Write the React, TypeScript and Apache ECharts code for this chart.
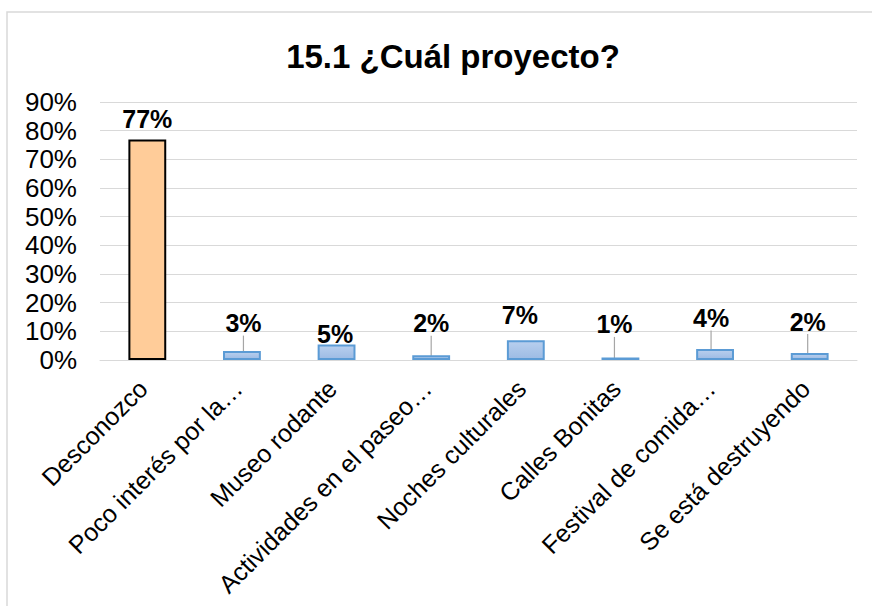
import React, { useEffect, useRef } from "react";
import * as echarts from "echarts";

const categories = [
  "Desconozco",
  "Poco interés por la…",
  "Museo rodante",
  "Actividades en el paseo…",
  "Noches culturales",
  "Calles Bonitas",
  "Festival de comida…",
  "Se está destruyendo",
];
const values = [76.9, 3.1, 5.4, 1.7, 6.9, 0.9, 3.8, 2.4];
const yTicks = { min: 0, max: 90, interval: 10 };
const labelDx = [0, 1.5, -1.5, 0, -6, -6, -4, -2];
const labelDy = [-0.5, -7.5, 9.5, -11.5, -4.5, -12.5, -10.5, -11];
const showLeader = [false, true, false, true, false, true, true, true];

const FONT = "'Liberation Sans', Arial, sans-serif";

export default function App() {
  const ref = useRef<HTMLDivElement>(null);
  useEffect(() => {
    if (!ref.current) return;
    const chart = echarts.init(ref.current, null, { renderer: "svg" });
    const blueFill = new echarts.graphic.LinearGradient(0, 0, 0, 1, [
      { offset: 0, color: "#b8cfee" },
      { offset: 1, color: "#9dbbe4" },
    ]);
    chart.setOption({
      animation: false,
      backgroundColor: "#ffffff",
      title: {
        text: "15.1 ¿Cuál proyecto?",
        left: 448,
        top: 35,
        textAlign: "center",
        textStyle: { fontFamily: FONT, fontSize: 33, fontWeight: "bold", color: "#000" },
      },
      graphic: [
        {
          type: "rect",
          z: -10,
          shape: { x: 7, y: 12, width: 900, height: 700 },
          style: { fill: "none", stroke: "#d9d9d9", lineWidth: 1.5 },
        },
      ],
      grid: { left: 100, right: 15, top: 102, bottom: 246, containLabel: false },
      xAxis: {
        type: "category",
        data: categories,
        axisLine: { show: true, lineStyle: { color: "#d9d9d9", width: 1 } },
        axisTick: { show: false },
        axisLabel: {
          rotate: 45,
          interval: 0,
          margin: 20,
          padding: [0, 6, 0, 0],
          fontFamily: FONT,
          fontSize: 25,
          color: "#000",
        },
      },
      yAxis: {
        type: "value",
        min: yTicks.min,
        max: yTicks.max,
        interval: yTicks.interval,
        axisLine: { show: false },
        axisTick: { show: false },
        splitLine: { lineStyle: { color: "#d9d9d9", width: 1 } },
        axisLabel: {
          formatter: "{value}%",
          margin: 23,
          fontFamily: FONT,
          fontSize: 26,
          color: "#000",
        },
      },
      series: [
        {
          type: "bar",
          barWidth: "40%",
          data: values.map((v, i) => ({
            value: v,
            itemStyle:
              i === 0
                ? { color: "#ffcc99", borderColor: "#000000", borderWidth: 2 }
                : { color: blueFill, borderColor: "#5b9bd5", borderWidth: 2 },
            labelLine: {
              show: showLeader[i],
              lineStyle: { color: "#a6a6a6", width: 1.2 },
            },
          })),
          label: {
            show: true,
            position: "top",
            distance: 8,
            fontFamily: FONT,
            fontSize: 25,
            fontWeight: "bold",
            color: "#000",
            formatter: (p: any) => Math.round(p.value) + "%",
          },
          labelLine: { show: true, lineStyle: { color: "#a6a6a6", width: 1.2 } },
          labelLayout: (p: any) => ({ dx: labelDx[p.dataIndex], dy: labelDy[p.dataIndex] }),
        },
      ],
    });
    return () => chart.dispose();
  }, []);
  return (
    <div
      ref={ref}
      style={{ position: "fixed", left: 0, top: 0, width: 872, height: 606, background: "#fff" }}
    />
  );
}
